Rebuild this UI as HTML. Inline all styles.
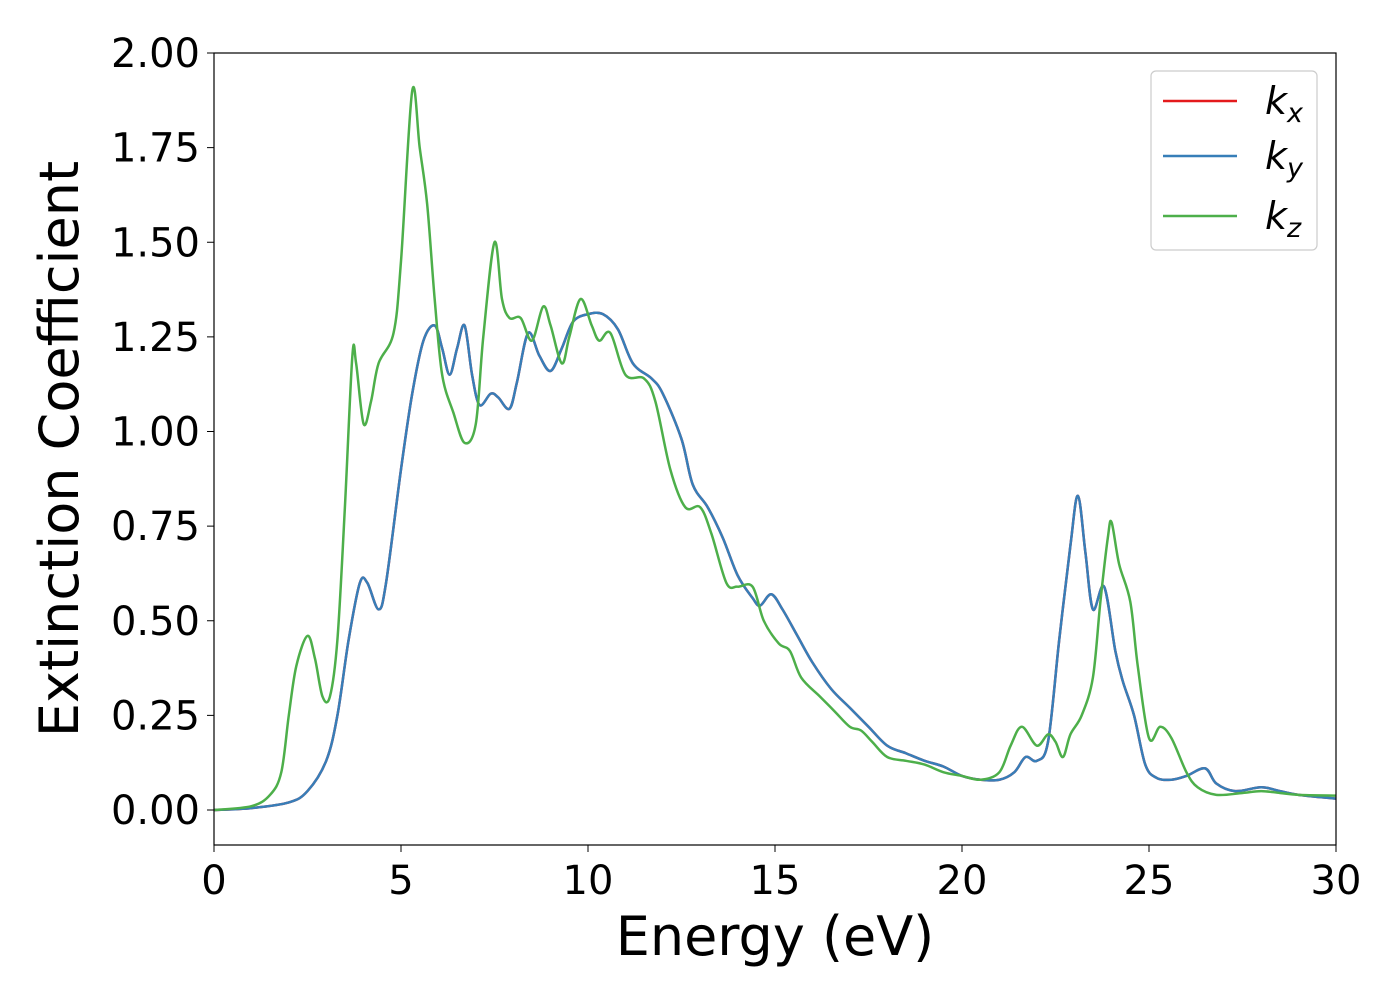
<!DOCTYPE html>
<html><head><meta charset="utf-8"><style>
body{margin:0;background:#fff;}
svg text{font-family:"DejaVu Sans","Liberation Sans",sans-serif;fill:#000;}
</style></head><body>
<svg id="chart" width="1400" height="1000" xmlns="http://www.w3.org/2000/svg">
<g id="series"></g>
<rect x="214" y="53" width="1122" height="792" fill="none" stroke="#000" stroke-width="1.2"/>
<g id="axes"></g>
<text x="775" y="955" font-size="54" text-anchor="middle">Energy (eV)</text>
<text transform="translate(78,449) rotate(-90)" font-size="54" text-anchor="middle">Extinction Coefficient</text>
<g>
<rect x="1151" y="71" width="166" height="179" rx="5" fill="#fff" stroke="#ccc" stroke-width="1.2"/>
<line x1="1163" y1="101" x2="1237" y2="101" stroke="#e41a1c" stroke-width="2.5"/>
<text x="1265" y="114" font-size="38" font-style="italic">k<tspan font-size="27" dy="8">x</tspan></text>
<line x1="1163" y1="156" x2="1237" y2="156" stroke="#377eb8" stroke-width="2.5"/>
<text x="1265" y="169" font-size="38" font-style="italic">k<tspan font-size="27" dy="8">y</tspan></text>
<line x1="1163" y1="216" x2="1237" y2="216" stroke="#4daf4a" stroke-width="2.5"/>
<text x="1265" y="229" font-size="38" font-style="italic">k<tspan font-size="27" dy="8">z</tspan></text>
</g>
</svg>
<script>
const kyE=[0,1,2,2.5,3,3.3,3.6,3.9,4.1,4.4,4.6,5,5.3,5.6,5.9,6.1,6.3,6.5,6.7,6.9,7.1,7.4,7.6,7.9,8.1,8.4,8.7,9.0,9.3,9.6,10,10.4,10.8,11.2,11.7,12,12.5,12.8,13.2,13.6,14,14.4,14.6,14.9,15.2,15.6,16,16.5,17,17.5,18,18.5,19,19.5,20,20.5,21,21.4,21.7,22,22.3,22.6,22.9,23.1,23.3,23.5,23.8,24.1,24.3,24.6,24.9,25.2,25.6,26,26.5,26.8,27.3,28,28.5,29,30];
const kyV=[0,0.005,0.02,0.05,0.13,0.25,0.45,0.6,0.6,0.53,0.6,0.9,1.1,1.24,1.28,1.22,1.15,1.22,1.28,1.15,1.07,1.1,1.09,1.06,1.13,1.26,1.2,1.16,1.22,1.29,1.31,1.31,1.27,1.18,1.14,1.1,0.98,0.86,0.8,0.72,0.62,0.56,0.54,0.57,0.53,0.46,0.39,0.32,0.27,0.22,0.17,0.15,0.13,0.115,0.09,0.08,0.08,0.1,0.14,0.13,0.18,0.45,0.7,0.83,0.68,0.53,0.59,0.42,0.34,0.25,0.12,0.085,0.08,0.09,0.11,0.07,0.05,0.06,0.05,0.04,0.03];
const kzE=[0,1,1.5,1.8,2.0,2.2,2.5,2.7,2.9,3.1,3.3,3.5,3.7,3.8,4.0,4.2,4.4,4.8,5.0,5.3,5.5,5.7,5.9,6.1,6.4,6.7,7.0,7.2,7.5,7.7,7.9,8.2,8.5,8.8,9.0,9.3,9.5,9.8,10.1,10.3,10.6,11,11.5,11.8,12.2,12.6,13,13.3,13.7,14.0,14.4,14.7,15.1,15.4,15.7,16.2,16.6,17,17.3,17.6,18,18.5,19,19.5,20,20.5,21,21.3,21.6,22,22.3,22.5,22.7,22.9,23.2,23.5,23.7,23.9,24,24.2,24.5,24.7,25,25.3,25.6,26,26.3,26.8,27.5,28,28.5,29,30];
const kzV=[0,0.01,0.04,0.1,0.25,0.38,0.46,0.4,0.3,0.3,0.45,0.8,1.2,1.18,1.02,1.08,1.18,1.26,1.45,1.9,1.75,1.6,1.35,1.15,1.05,0.97,1.02,1.25,1.5,1.35,1.3,1.3,1.24,1.33,1.28,1.18,1.25,1.35,1.28,1.24,1.26,1.15,1.14,1.08,0.9,0.8,0.8,0.73,0.6,0.59,0.59,0.5,0.44,0.42,0.35,0.3,0.26,0.22,0.21,0.18,0.14,0.13,0.12,0.1,0.09,0.08,0.1,0.17,0.22,0.17,0.2,0.18,0.14,0.2,0.25,0.35,0.55,0.72,0.76,0.65,0.55,0.38,0.19,0.22,0.19,0.1,0.06,0.04,0.045,0.05,0.045,0.04,0.038];
const xTicks=[0,5,10,15,20,25,30];
const yTicks=["0.00","0.25","0.50","0.75","1.00","1.25","1.50","1.75","2.00"];
const NS="http://www.w3.org/2000/svg";
const X=v=>214+v*1122/30;
const Y=v=>810-v*378.5;
function path(E,V){
  const p=E.map((e,i)=>[X(e),Y(V[i])]);
  let d="M"+p[0][0]+","+p[0][1];
  for(let i=0;i<p.length-1;i++){
    const a=p[i-1]||p[i],b=p[i],c=p[i+1],e=p[i+2]||c;
    d+=` C${b[0]+(c[0]-a[0])/6},${b[1]+(c[1]-a[1])/6} ${c[0]-(e[0]-b[0])/6},${c[1]-(e[1]-b[1])/6} ${c[0]},${c[1]}`;
  }
  return d;
}
const g=document.getElementById("series");
[["series-kx",kyE,kyV,"#e41a1c"],["series-ky",kyE,kyV,"#377eb8"],["series-kz",kzE,kzV,"#4daf4a"]].forEach(s=>{
  const el=document.createElementNS(NS,"path");
  el.setAttribute("d",path(s[1],s[2]));
  el.setAttribute("fill","none");el.setAttribute("stroke",s[3]);el.setAttribute("stroke-width","2.5");
  
  
  g.appendChild(el);
});
const ax=document.getElementById("axes");
xTicks.forEach(t=>{
  const l=document.createElementNS(NS,"line");
  l.setAttribute("x1",X(t));l.setAttribute("x2",X(t));l.setAttribute("y1",845);l.setAttribute("y2",852);l.setAttribute("stroke","#000");
  
  
  ax.appendChild(l);
  const tx=document.createElementNS(NS,"text");
  tx.setAttribute("x",X(t));tx.setAttribute("y",894);tx.setAttribute("font-size","40");tx.setAttribute("text-anchor","middle");
  tx.textContent=t;
  
  
  ax.appendChild(tx);
});
yTicks.forEach(t=>{
  const v=parseFloat(t);
  const l=document.createElementNS(NS,"line");
  l.setAttribute("x1",207);l.setAttribute("x2",214);l.setAttribute("y1",Y(v));l.setAttribute("y2",Y(v));l.setAttribute("stroke","#000");
  
  
  ax.appendChild(l);
  const tx=document.createElementNS(NS,"text");
  tx.setAttribute("x",200);tx.setAttribute("y",Y(v)+14);tx.setAttribute("font-size","40");tx.setAttribute("text-anchor","end");
  tx.textContent=t;
  
  
  ax.appendChild(tx);
});
</script>
</body></html>
